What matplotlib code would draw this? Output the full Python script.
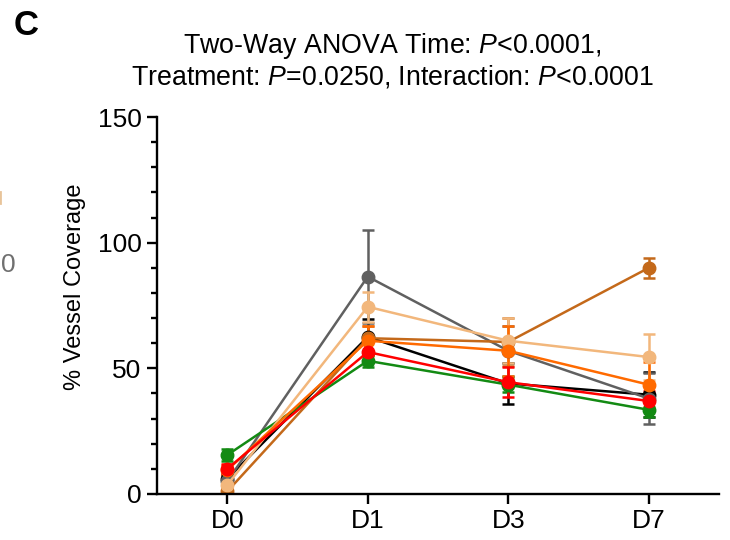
import matplotlib
matplotlib.use("Agg")
import matplotlib.pyplot as plt
from matplotlib.ticker import MultipleLocator
from matplotlib.lines import Line2D

plt.rcParams['font.family'] = ['Liberation Sans', 'DejaVu Sans']
plt.rcParams['mathtext.fontset'] = 'custom'
plt.rcParams['mathtext.rm'] = 'Liberation Sans'
plt.rcParams['mathtext.it'] = 'Liberation Sans:italic'

# time points
days = ['D0', 'D1', 'D3', 'D7']

# mean % vessel coverage and error (SEM) per group
black_mean = [6, 62.5, 44, 39.5]
black_err = [2, 7, 8, 9]
gray_mean = [5, 86.5, 57, 38]
gray_err = [2, 18.5, 10, 10]
green_mean = [15.5, 53, 43.5, 33.5]
green_err = [2.3, 2.5, 3, 3]
darkorange_mean = [1, 62, 60.5, 90]
darkorange_err = [1, 5, 9.5, 4]
tan_mean = [3.6, 74.5, 61, 54.5]
tan_err = [1.5, 6, 9, 9]
orange_mean = [9.5, 61, 57, 43.5]
orange_err = [2, 6, 10, 9]
red_mean = [10, 56.5, 44.5, 37]
red_err = [2, 4, 6, 4]

series = [
    (black_mean, black_err, 'black'),
    (gray_mean, gray_err, '#606060'),
    (green_mean, green_err, '#138a13'),
    (darkorange_mean, darkorange_err, '#c4691a'),
    (tan_mean, tan_err, '#f2b77c'),
    (orange_mean, orange_err, '#ff6a00'),
    (red_mean, red_err, '#ff0000'),
]

fig = plt.figure(figsize=(7.3, 5.4), dpi=100)
ax = fig.add_axes([0.215, 0.0852, 0.77, 0.698])

x = range(len(days))
for mean, err, col in series:
    ax.errorbar(x, mean, yerr=err, color=col, marker='o', markersize=9,
                linewidth=1.8, elinewidth=1.8, capsize=4.5, capthick=1.8)

ax.set_xlim(-0.5, 3.5)
ax.set_ylim(0, 150)
ax.set_xticks(list(x))
ax.set_xticklabels(days)
ax.set_yticks([0, 50, 100, 150])
ax.yaxis.set_minor_locator(MultipleLocator(10))
for s in ['top', 'right']:
    ax.spines[s].set_visible(False)
for s in ['left', 'bottom']:
    ax.spines[s].set_linewidth(1.7)
ax.tick_params(axis='both', which='major', length=7, width=1.7, labelsize=19, pad=4)
ax.tick_params(axis='y', which='minor', length=4.5, width=1.7)
ax.set_ylabel('% Vessel Coverage', fontsize=17)
ax.yaxis.set_label_coords(-0.127, 0.55)

fig.text(0.537, 0.887, 'Two-Way ANOVA Time: $\\mathit{P}$<0.0001,\nTreatment: $\\mathit{P}$=0.0250, Interaction: $\\mathit{P}$<0.0001',
         ha='center', va='center', fontsize=19.3, linespacing=1.12)
fig.text(0.019, 0.953, 'C', fontsize=25, fontweight='bold', ha='left', va='center')
# clipped fragments of the neighbouring panel
fig.text(0.001, 0.509, '0', fontsize=19, color='#707070', ha='left', va='center')
fig.add_artist(Line2D([0.0, 0.0], [0.625, 0.645], transform=fig.transFigure,
                      color='#e8c49a', linewidth=2))

fig.savefig('out.png', dpi=100)
